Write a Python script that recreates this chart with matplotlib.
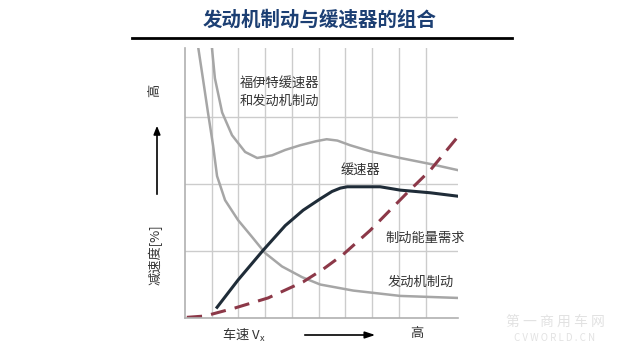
import matplotlib
matplotlib.use("Agg")
import matplotlib.pyplot as plt

plt.rcParams['font.family'] = ['Noto Sans CJK SC', 'DejaVu Sans']

# curve values (x: speed grid units, y: deceleration grid units)
engine_x = [0.50, 0.67, 0.86, 1.05, 1.20, 1.50, 1.99, 2.51, 3.00, 3.63, 4.38, 5.06, 6.29, 8.05, 10.19]
engine_y = [4.03, 3.58, 3.07, 2.58, 2.12, 1.76, 1.46, 1.21, 0.97, 0.77, 0.61, 0.50, 0.41, 0.33, 0.30]

combined_x = [1.01, 1.12, 1.39, 1.76, 2.25, 2.70, 3.26, 3.75, 4.31, 4.90, 5.30, 5.70, 6.18, 6.93, 8.05, 9.18, 10.19]
combined_y = [4.03, 3.58, 3.07, 2.73, 2.48, 2.39, 2.43, 2.51, 2.58, 2.64, 2.67, 2.65, 2.58, 2.49, 2.39, 2.30, 2.21]

retarder_x = [1.20, 1.99, 2.92, 3.75, 4.42, 5.06, 5.50, 5.81, 6.07, 7.30, 8.05, 9.18, 10.19]
retarder_y = [0.16, 0.57, 1.01, 1.38, 1.61, 1.78, 1.89, 1.94, 1.96, 1.96, 1.91, 1.87, 1.82]

demand_x = [0.07, 0.75, 1.87, 3.11, 4.42, 5.17, 5.92, 6.93, 8.31, 9.18, 10.19]
demand_y = [0.01, 0.03, 0.15, 0.30, 0.54, 0.73, 0.95, 1.31, 1.87, 2.21, 2.70]

labels = ["福伊特缓速器\n和发动机制动", "缓速器", "制动能量需求", "发动机制动"]
label_pos = [(2.06, 3.37), (5.81, 2.21), (7.49, 1.19), (7.57, 0.54)]

fig = plt.figure(figsize=(6.4, 3.56), dpi=100)
ax = fig.add_axes([0.289, 0.1067, 0.427, 0.758])

grid_c = "#cccccc"
for gx in range(1, 10):
    ax.axvline(gx, color=grid_c, lw=1.0, zorder=0)
for gy in range(1, 4):
    ax.axhline(gy, color=grid_c, lw=1.0, zorder=0)

ax.plot(engine_x, engine_y, color="#a6a6a6", lw=1.8)
ax.plot(combined_x, combined_y, color="#a6a6a6", lw=1.8)
ax.plot(retarder_x, retarder_y, color="#1f2c38", lw=2.2)
ax.plot(demand_x, demand_y, color="#8c3848", lw=2.2, dashes=(5, 3))

for txt, (tx, ty) in zip(labels, label_pos):
    ax.text(tx, ty, txt, fontsize=9.5, color="#333333", ha="left", va="center",
            linespacing=1.45)

ax.set_xlim(0, 10.22)
ax.set_ylim(0, 4.03)
ax.set_xticks([])
ax.set_yticks([])
for s in ["top", "right"]:
    ax.spines[s].set_visible(False)
for s in ["left", "bottom"]:
    ax.spines[s].set_color("#b0b0b0")
    ax.spines[s].set_linewidth(1.2)

# header
fig.text(0.5, 0.944, "发动机制动与缓速器的组合", fontsize=14, fontweight="heavy",
         color="#1c3f73", ha="center", va="center")
fig.add_artist(plt.Line2D([132 / 640, 512 / 640], [1 - 38 / 356, 1 - 38 / 356],
                          color="black", lw=2))

# axis labels and arrows
fig.text(155 / 640, 1 - 90 / 356, "高", fontsize=9.5, color="#333333",
         rotation=90, ha="center", va="center")
fig.text(155 / 640, 1 - 255 / 356, "减速度[%]", fontsize=9.5, color="#333333",
         rotation=90, ha="center", va="center")
fig.add_artist(matplotlib.patches.FancyArrowPatch(
    (157 / 640, 1 - 197 / 356), (157 / 640, 1 - 123 / 356),
    transform=fig.transFigure, arrowstyle="-|>,head_length=5,head_width=2",
    color="black", lw=1.2))

fig.text(222 / 640, 1 - 335 / 356, "车速 V$_\\mathregular{x}$", fontsize=9.5,
         color="#333333", ha="left", va="center")
fig.add_artist(matplotlib.patches.FancyArrowPatch(
    (302 / 640, 1 - 335 / 356), (378 / 640, 1 - 335 / 356),
    transform=fig.transFigure, arrowstyle="-|>,head_length=6,head_width=2",
    color="black", lw=1.2))
fig.text(417 / 640, 1 - 334 / 356, "高", fontsize=9.5, color="#333333",
         ha="center", va="center")

# faint watermark
fig.text(555 / 640, 1 - 322 / 356, "第 一 商 用 车 网", fontsize=10, color="#e2e2e2",
         ha="center", va="center")
fig.text(555 / 640, 1 - 338 / 356, "C V W O R L D . C N", fontsize=7, color="#e2e2e2",
         ha="center", va="center")

fig.savefig("out.png", dpi=100)
